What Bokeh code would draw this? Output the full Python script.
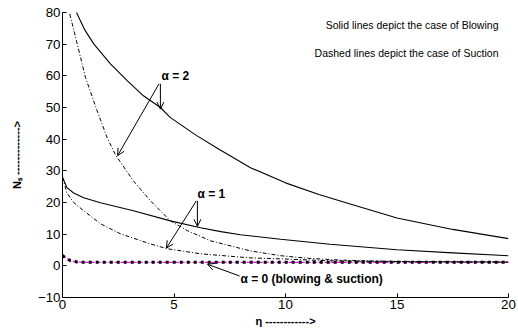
from bokeh.plotting import figure
from bokeh.models import Label, Arrow, OpenHead, FixedTicker, Range1d
from bokeh.embed import file_html
from bokeh.resources import INLINE

# ---- data ----
eta_b2 = [0.45, 0.58, 1.0, 1.4, 2.15, 2.9, 3.63, 4.39, 4.84, 6.0, 7.0, 8.43, 10, 11.5, 12.9, 15, 17.5, 20]
Ns_b2 = [84, 80.7, 74.5, 70.1, 63.8, 58.5, 53.7, 50, 46.8, 41.2, 36.9, 31, 26.2, 22.5, 19.5, 15.1, 11.5, 8.6]

eta_s2 = [0.2, 0.28, 0.66, 1.03, 1.55, 2.0, 2.38, 3.18, 3.95, 4.84, 5.6, 6.64, 8.43, 9.78, 11, 12.5, 14, 16, 20]
Ns_s2 = [88, 80.8, 70.1, 59.5, 49, 40.5, 35, 26.8, 20.5, 14.2, 11.1, 7.9, 4.7, 3.2, 2.4, 1.8, 1.5, 1.3, 1.2]

eta_b1 = [0, 0.2, 0.5, 0.95, 1.7, 3.18, 4.84, 6.19, 7.1, 7.98, 9.78, 12, 15, 17.5, 20]
Ns_b1 = [28, 24.7, 23, 21.5, 19.9, 17.4, 14.2, 12.0, 10.8, 9.8, 8.4, 6.8, 5.1, 4.1, 3.2]

eta_s1 = [0, 0.2, 0.5, 0.95, 1.7, 2.6, 3.95, 4.7, 6.19, 8.43, 9.78, 12, 14, 20]
Ns_s1 = [28, 23, 20, 17.4, 13.3, 10.1, 6.9, 5.4, 3.8, 2.5, 2.2, 1.6, 1.4, 1.2]

eta_0 = [0, 0.1, 0.36, 0.66, 1, 2, 4, 6, 8, 10, 15, 20]
Ns_0 = [3.3, 2.7, 1.6, 1.2, 1.12, 1.1, 1.1, 1.1, 1.1, 1.1, 1.1, 1.1]

x_ticks = [0, 5, 10, 15, 20]
y_ticks = [-10, 0, 10, 20, 30, 40, 50, 60, 70, 80]

FONT = "Liberation Sans"

p = figure(width=518, height=331, output_backend="svg", toolbar_location=None,
           x_range=Range1d(0, 20), y_range=Range1d(-10, 80),
           min_border_left=62, min_border_right=10, min_border_top=12, min_border_bottom=34)
p.outline_line_color = None
p.grid.visible = False
p.background_fill_color = "white"
p.border_fill_color = "white"

for ax, t in ((p.xaxis[0], x_ticks), (p.yaxis[0], y_ticks)):
    ax.ticker = FixedTicker(ticks=t)
    ax.major_tick_in = 4
    ax.major_tick_out = 0
    ax.minor_tick_line_color = None
    ax.axis_line_color = "black"
    ax.major_tick_line_color = "black"
    ax.major_label_text_font = FONT
    ax.major_label_text_font_size = "13.3px"
    ax.major_label_text_color = "black"
    ax.major_label_standoff = 2
    ax.axis_label_text_font = FONT
    ax.axis_label_text_font_size = "11px"
    ax.axis_label_text_font_style = "bold"
    ax.axis_label_text_color = "black"

p.xaxis[0].axis_label = "η ------------>"
p.xaxis[0].axis_label_standoff = 3
p.yaxis[0].axis_label = "Nₛ ------------->"
p.yaxis[0].axis_label_standoff = 12

# curves
p.line(eta_0, Ns_0, line_color="#ff00ff", line_width=1.2, line_dash="4 2")
p.line(eta_0, Ns_0, line_color="black", line_width=3, line_dash="3 4")
p.line(eta_b2, Ns_b2, line_color="black", line_width=1.1)
p.line(eta_b1, Ns_b1, line_color="black", line_width=1.1)
p.line(eta_s2, Ns_s2, line_color="black", line_width=1, line_dash="4 2 1 2")
p.line(eta_s1, Ns_s1, line_color="black", line_width=1, line_dash="4 2 1 2")

# notes
p.add_layout(Label(x=19.55, y=76.1, text="Solid lines depict the case of Blowing", text_align="right",
                   text_baseline="middle", text_font=FONT, text_font_size="10.5px", text_color="black"))
p.add_layout(Label(x=19.55, y=67.3, text="Dashed lines depict the case of Suction", text_align="right",
                   text_baseline="middle", text_font=FONT, text_font_size="10.5px", text_color="black"))

def alabel(x, y, txt):
    p.add_layout(Label(x=x, y=y, text=txt, text_align="left", text_baseline="middle",
                       text_font=FONT, text_font_size="12px", text_font_style="bold", text_color="black"))

def arrow(x0, y0, x1, y1):
    p.add_layout(Arrow(x_start=x0, y_start=y0, x_end=x1, y_end=y1, line_width=1, line_color="black",
                       end=OpenHead(size=7, line_width=1, line_color="black")))

alabel(4.44, 60, "α = 2")
arrow(4.39, 57.5, 4.39, 49.5)
arrow(4.33, 57.5, 2.47, 34.8)

alabel(6.05, 22.7, "α = 1")
arrow(6.05, 20.5, 6.05, 12.5)
arrow(6.0, 20.5, 4.66, 5.6)

alabel(7.98, -4.1, "α = 0 (blowing & suction)")
arrow(7.94, -3.2, 6.5, 0.5)

open("out.html", "w").write(file_html(p, INLINE))
